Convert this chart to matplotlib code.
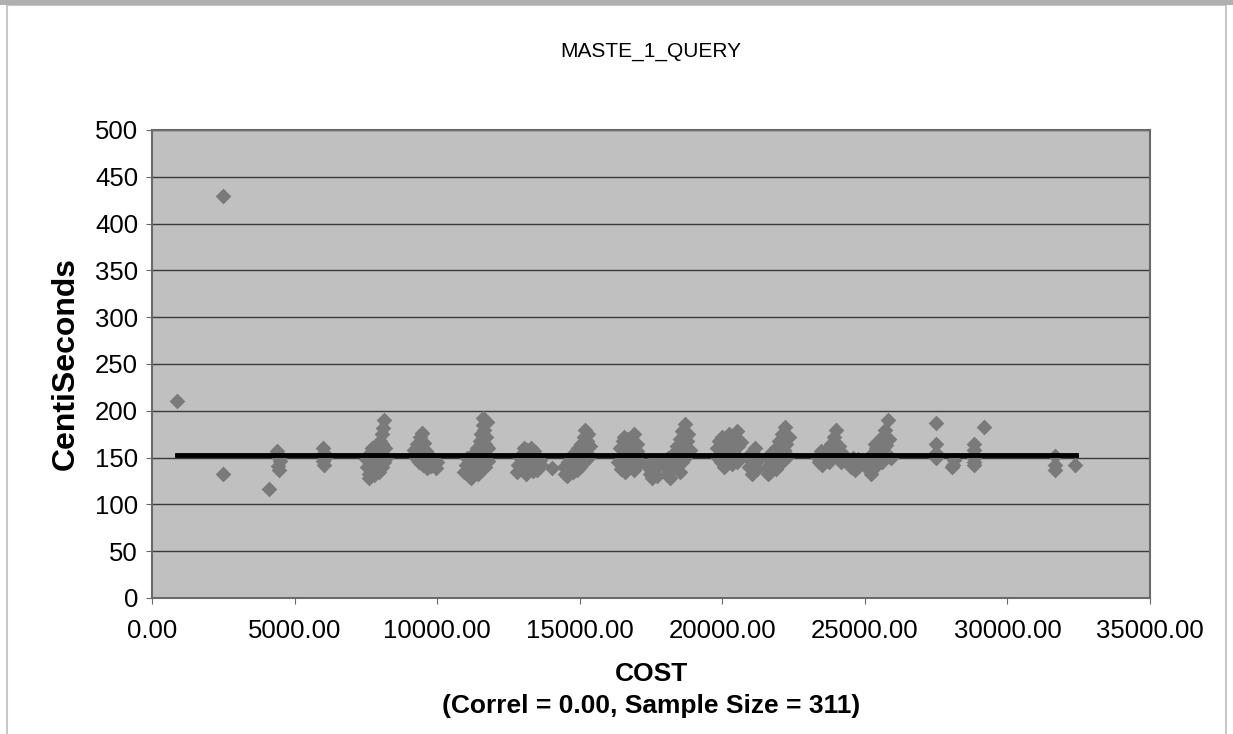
import matplotlib
matplotlib.use("Agg")
import matplotlib.pyplot as plt
from matplotlib.patches import Rectangle

plt.rcParams['font.family'] = ['Liberation Sans', 'DejaVu Sans']

title = "MASTE_1_QUERY"
x_label = "COST\n(Correl = 0.00, Sample Size = 311)"
y_label = "CentiSeconds"

# cost / centiseconds pairs, one line per cluster
cost = [880, 2480, 2480, 4090,
        4400, 4450, 4480, 4420, 4460,
        5980, 6020, 6050, 5990, 6030,
        7500, 7550, 7600, 7620, 7650, 7680, 7700, 7720, 7750, 7780, 7800, 7830, 7850, 7870, 7900,
        7920, 7950, 7970, 7990, 8000, 8020, 8050, 8060, 8080, 8100, 8110, 8130, 8150, 8170, 8200,
        9200, 9250, 9300, 9350, 9400, 9420, 9450, 9480, 9500, 9550, 9580, 9620, 9660, 9700, 9750,
        9800, 9850, 9900, 9950, 10000,
        10950, 11000, 11050, 11100, 11150, 11200, 11250, 11300, 11350, 11400, 11420, 11450, 11500,
        11520, 11550, 11580, 11600, 11620, 11650, 11670, 11700, 11720, 11750, 11780, 11800, 11550,
        11480, 11380, 11280, 11680,
        12800, 12850, 12900, 12950, 13000, 13050, 13100, 13150, 13200, 13250, 13300, 13350, 13400,
        13450, 13500, 13550, 13600, 13650, 13050, 13300, 12900, 13500,
        14040,
        14450, 14500, 14550, 14600, 14650, 14700, 14750, 14800, 14850, 14900, 14950, 15000, 15050,
        15100, 15150, 15150, 15200, 15200, 15250, 15300, 15300, 15350, 14900, 15050, 15250,
        16350, 16400, 16450, 16500, 16550, 16600, 16650, 16700, 16750, 16800, 16850, 16900, 16950,
        17000, 17050, 17100, 16550, 16750, 16450, 16900, 17000, 16650,
        17400, 17450, 17500, 17550, 17600, 17650, 17700, 17750,
        18000, 18050, 18100, 18150, 18200, 18250, 18300, 18350, 18400, 18450, 18500, 18550, 18600,
        18650, 18700, 18700, 18750, 18800, 18850, 18250, 18500, 18600,
        19800, 19850, 19900, 19950, 20000, 20050, 20100, 20150, 20200, 20250, 20300, 20350, 20400,
        20450, 20500, 20550, 20600, 20650, 20100, 20300, 20500, 20000,
        20900, 20950, 21000, 21050, 21100, 21150, 21200, 21300,
        21550, 21600, 21650, 21700, 21750, 21800, 21850, 21900, 21950, 22000, 22050, 22100, 22150,
        22200, 22250, 22300, 22350, 21700, 21900, 22100,
        23350, 23400, 23450, 23500, 23600, 23650, 23700, 23750, 23800, 23850, 23900, 23950, 24000,
        24050, 24100, 24150, 24200, 23550,
        24450, 24500, 24600, 24650, 24750, 24800,
        25050, 25100, 25150, 25200, 25250, 25300, 25350, 25400, 25450, 25500, 25550, 25600, 25650,
        25700, 25750, 25800, 25850, 25900, 25350, 25600,
        27500, 27500, 27500, 27500, 28050, 28120, 28100, 28820, 28820, 28820, 28820, 28820, 29170,
        31680, 31680, 31680, 32380]

centisec = [210, 430, 133, 116,
            157, 150, 146, 141, 137,
            160, 155, 150, 146, 142,
            148, 140, 133, 128, 155, 145, 137, 160, 150, 142, 131, 157, 147, 138, 162,
            152, 143, 135, 168, 158, 148, 175, 140, 165, 182, 153, 190, 145, 160, 150,
            158, 150, 165, 145, 172, 160, 153, 176, 142, 166, 148, 157, 139, 150, 145,
            141, 148, 143, 139, 145,
            135, 142, 150, 130, 138, 128, 145, 155, 140, 160, 133, 150, 168,
            145, 175, 158, 185, 192, 180, 165, 152, 172, 188, 146, 160, 138,
            155, 147, 136, 140,
            135, 142, 150, 138, 155, 145, 133, 158, 148, 140, 152, 136, 157,
            145, 150, 140, 147, 142, 160, 160, 143, 137,
            139,
            140, 133, 130, 145, 138, 150, 135, 155, 143, 148, 160, 140, 165,
            152, 172, 145, 180, 158, 168, 150, 175, 162, 137, 145, 155,
            145, 160, 138, 168, 150, 135, 155, 170, 143, 162, 148, 175, 140,
            165, 152, 145, 172, 157, 152, 137, 157, 165,
            140, 132, 145, 128, 137, 142, 130, 146,
            140, 132, 150, 128, 145, 138, 155, 148, 162, 142, 170, 155, 178,
            160, 186, 150, 168, 175, 158, 152, 135, 145,
            160, 150, 168, 145, 172, 140, 155, 165, 148, 175, 158, 143, 170,
            152, 178, 162, 150, 167, 142, 145, 145, 155,
            150, 140, 155, 133, 145, 160, 138, 148,
            140, 132, 150, 136, 145, 155, 142, 160, 150, 168, 147, 175, 158,
            183, 165, 152, 172, 155, 138, 145,
            150, 145, 157, 142, 155, 148, 160, 145, 165, 152, 172, 158, 180,
            150, 162, 145, 155, 150,
            145, 140, 150, 137, 148, 142,
            145, 138, 150, 133, 142, 155, 140, 160, 148, 165, 153, 172, 158,
            180, 163, 190, 170, 150, 165, 145,
            187, 165, 155, 150, 140, 147, 142, 165, 158, 150, 145, 142, 183,
            152, 142, 137, 142]

# linear trend (flat, correl = 0)
trend_cost = [880, 32400]
trend_cs = [152.5, 152.5]

x_ticks = [0, 5000, 10000, 15000, 20000, 25000, 30000, 35000]
y_ticks = [0, 50, 100, 150, 200, 250, 300, 350, 400, 450, 500]

fig = plt.figure(figsize=(12.33, 7.34), dpi=100)
ax = fig.add_axes([0.1233, 0.1853, 0.8094, 0.6376])
ax.set_facecolor('#c0c0c0')

ax.scatter(cost, centisec, marker='D', s=64, color='#7a7a7a', linewidths=0, zorder=3)
ax.plot(trend_cost, trend_cs, color='black', lw=3.5, zorder=4)

ax.set_xlim(0, 35000)
ax.set_ylim(0, 500)
ax.set_xticks(x_ticks)
ax.set_xticklabels([f"{v:.2f}" for v in x_ticks])
ax.set_yticks(y_ticks)
ax.yaxis.grid(True, color='#3a3a3a', lw=1.0)
ax.set_axisbelow(True)
for s in ax.spines.values():
    s.set_color('#6a6a6a')
    s.set_linewidth(1.5)
ax.tick_params(axis='x', labelsize=18.5, length=4, pad=11, color='#6a6a6a')
ax.tick_params(axis='y', labelsize=18.5, length=4, pad=6, color='#6a6a6a')

ax.set_title(title, fontsize=15, pad=53)
ax.set_xlabel(x_label, fontsize=19, fontweight='bold', labelpad=14, linespacing=1.4)
ax.set_ylabel(y_label, fontsize=23, fontweight='bold', labelpad=10)

# page frame
fig.patches.append(Rectangle((0.006, -0.01), 0.988, 1.003, transform=fig.transFigure,
                             fill=False, edgecolor='#c8c8c8', lw=1.5))
fig.patches.append(Rectangle((0, 0.993), 1, 0.007, transform=fig.transFigure,
                             color='#b0b0b0', lw=0))

fig.savefig("out.png", dpi=100)
